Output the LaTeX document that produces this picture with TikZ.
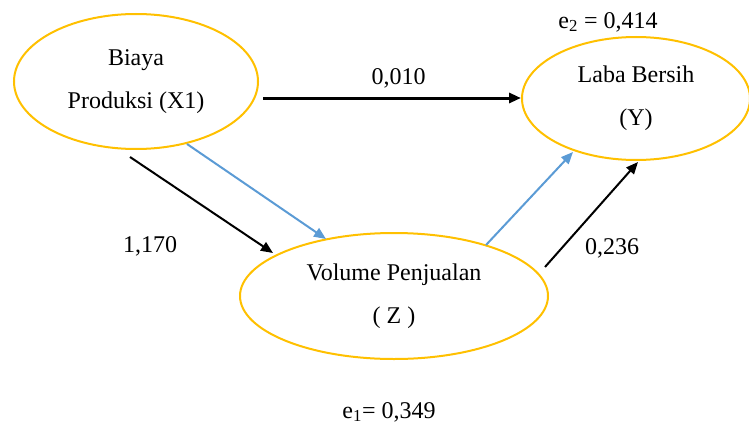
\documentclass[tikz,border=0pt]{standalone}
\usepackage{fontspec}
\setmainfont{Liberation Serif}
\usetikzlibrary{shapes.geometric,arrows.meta}
\definecolor{ellyellow}{HTML}{FFC000}
\definecolor{arrblue}{HTML}{5B9BD5}
\tikzset{
  var/.style={ellipse, draw=ellyellow, line width=2pt, inner sep=0pt, align=center,
    font=\fontsize{24}{43}\selectfont},
  lbl/.style={font=\fontsize{24}{28}\selectfont, inner sep=0pt},
  blackarrow/.style={draw=black, line width=2pt, -{Triangle[length=12pt,width=10pt]}},
  bluearrow/.style={draw=arrblue, line width=2pt, -{Triangle[length=12pt,width=10pt]}}
}
\begin{document}
\begin{tikzpicture}[x=1pt,y=-1pt]
\useasboundingbox (0,0) rectangle (749,428);
\node[var, minimum width=244pt, minimum height=135pt] (x1) at (136,81.5) {Biaya\\Produksi (X1)};
\node[var, minimum width=228pt, minimum height=123pt] (y) at (636,98.5) {Laba Bersih\\(Y)};
\node[var, minimum width=308pt, minimum height=126pt] (z) at (394,296) {Volume Penjualan\\( Z )};

\node[lbl] (l1) at (398.5,78) {0,010};
\node[lbl] (l2) at (608,22) {e\textsubscript{2} = 0,414};
\node[lbl] (l3) at (150,246) {1,170};
\node[lbl] (l4) at (612,248) {0,236};
\node[lbl] (l5) at (389,412) {e\textsubscript{1}= 0,349};

\coordinate (a1s) at (263,98);
\coordinate (a1e) at (521,98);
\coordinate (a2s) at (130,157);
\coordinate (a2e) at (273,253);
\coordinate (a3s) at (187,144);
\coordinate (a3e) at (326,239);
\coordinate (a4s) at (486,245);
\coordinate (a4e) at (573,152);
\coordinate (a5s) at (545,267);
\coordinate (a5e) at (638,162);

\draw[blackarrow, line width=3pt] (a1s) -- (a1e);
\draw[blackarrow] (a2s) -- (a2e);
\draw[bluearrow] (a3s) -- (a3e);
\draw[bluearrow] (a4s) -- (a4e);
\draw[blackarrow] (a5s) -- (a5e);
\end{tikzpicture}
\end{document}
